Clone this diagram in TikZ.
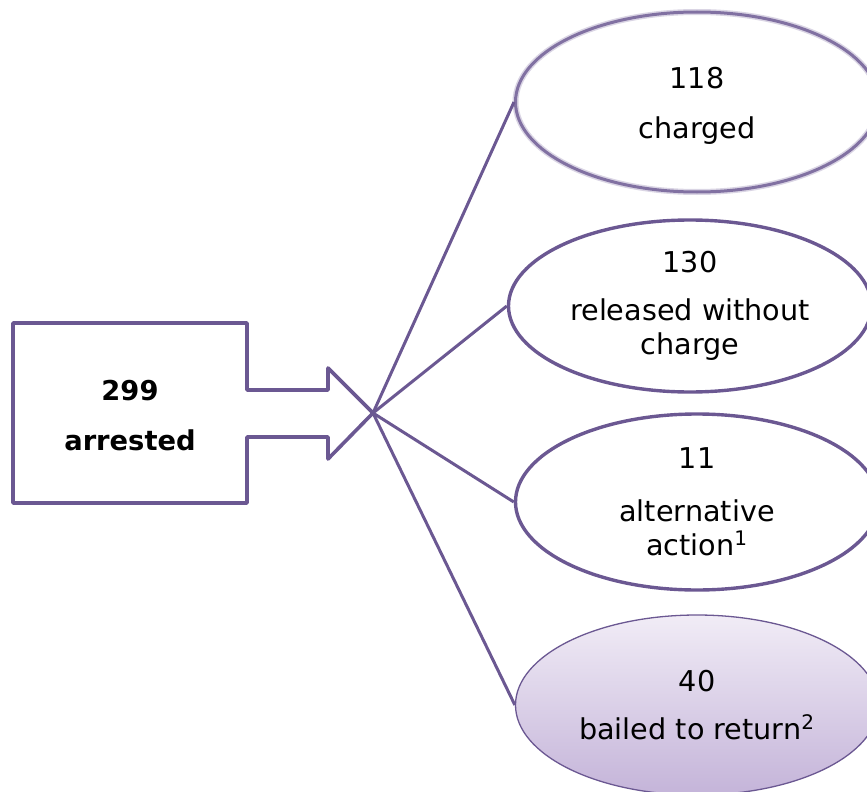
\documentclass[tikz,border=0pt]{standalone}
\usepackage{fontspec}
\setmainfont{DejaVu Sans}
\usetikzlibrary{shapes.geometric}
\definecolor{edgec}{RGB}{107,88,146}
\definecolor{lavtop}{RGB}{241,236,246}
\definecolor{lavbot}{RGB}{196,180,217}
\newlength\pxu
\setlength\pxu{0.75pt}
\begin{document}
\begin{tikzpicture}[
    x=0.75pt, y=-0.75pt,
    outcome/.style={draw=edgec, line width=3.4\pxu, ellipse, inner sep=0pt,
      minimum width=363\pxu, minimum height=176\pxu, align=center,
      font=\fontsize{21.5}{25.5}\selectfont},
    link/.style={draw=edgec, line width=3\pxu},
    lbl/.style={font=\fontsize{20.5}{37.5}\selectfont\bfseries, align=center}
  ]
    \useasboundingbox (0,0) rectangle (867,792);
    \clip (0,0) rectangle (867,792);
    % box with block arrow
    \draw[edgec, line width=3.6\pxu, line join=round]
      (13,323) -- (247,323) -- (247,390) -- (328,390) -- (328,368)
      -- (373,413) coordinate (tip) -- (328,459) -- (328,437) -- (247,437)
      -- (247,503) -- (13,503) -- cycle;
    \node[lbl] (arrested) at (130,416) {299\\arrested};

    \node[outcome, draw=edgec!85, line width=3\pxu,
      preaction={draw=edgec!25, line width=6\pxu},
      minimum height=180\pxu] (charged) at (697,102) {};
    \node[align=center, font=\fontsize{21.5}{25.5}\selectfont]
      (chargedtxt) at (697,106) {118\\[11.5pt]charged};
    \node[outcome, minimum height=172\pxu] (released) at (690,306)
      {130\\[11pt]released without\\charge};
    \node[outcome] (altaction) at (697,502)
      {11\\[14pt]alternative\\action\textsuperscript{1}};
    \node[outcome, line width=1.3\pxu, top color=lavtop, bottom color=lavbot,
      minimum height=180\pxu] (bailed) at (697,705)
      {40\\[11pt]bailed to return\textsuperscript{2}};

    \draw[link] (tip) -- (charged.west);
    \draw[link] (tip) -- (released.west);
    \draw[link] (tip) -- (altaction.west);
    \draw[link] (tip) -- (bailed.west);
  \end{tikzpicture}
\end{document}
